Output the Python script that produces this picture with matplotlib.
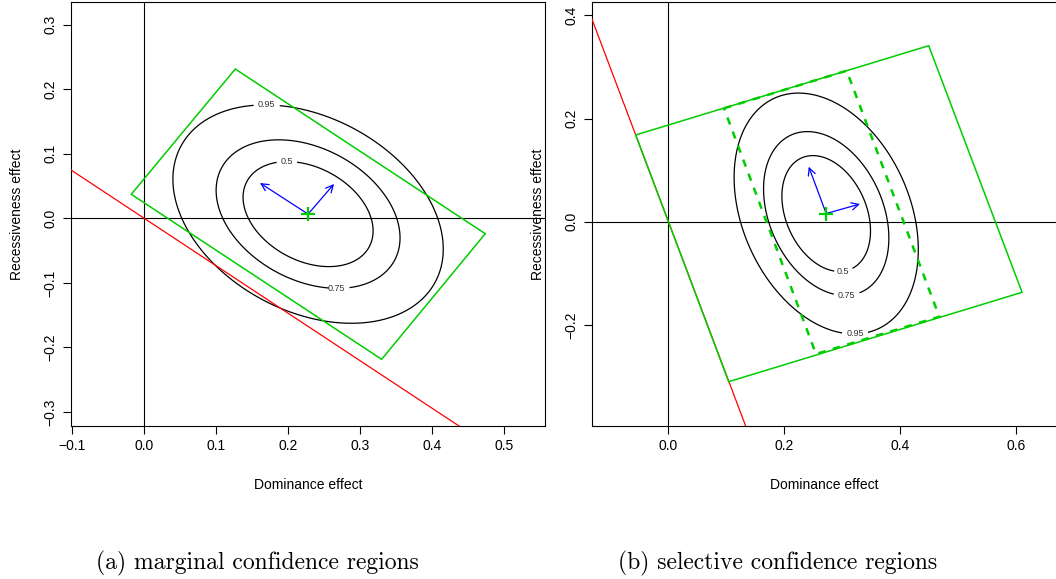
import numpy as np
import matplotlib
matplotlib.use("Agg")
import matplotlib.pyplot as plt

# ---------------- data ----------------
levels = [0.5, 0.75, 0.95]
level_labels = ["0.5", "0.75", "0.95"]

# panel (a): marginal confidence regions
a_center = (0.2275, 0.0066)
a_sd = (0.0767, 0.0691)
a_rho = -0.32
a_arrow_x = [0.1607, 0.2635]
a_arrow_y = [0.0548, 0.0532]
a_rect_x = [-0.0181, 0.1264, 0.4736, 0.3297]
a_rect_y = [0.0373, 0.2314, -0.0238, -0.2184]
a_red_slope = -0.736
a_label_pos = [(0.198, 0.086), (0.267, -0.109), (0.170, 0.175)]
a_xticks = [-0.1, 0.0, 0.1, 0.2, 0.3, 0.4, 0.5]
a_yticks = [-0.3, -0.2, -0.1, 0.0, 0.1, 0.2, 0.3]
a_xlim = (-0.1018, 0.557)
a_ylim = (-0.3222, 0.3357)

# panel (b): selective confidence regions
b_center = (0.2725, 0.0160)
b_sd = (0.0650, 0.0954)
b_rho = -0.30
b_arrow_x = [0.2423, 0.3309]
b_arrow_y = [0.1068, 0.0345]
b_rect_x = [-0.0567, 0.4496, 0.6109, 0.1040]
b_rect_y = [0.1683, 0.3414, -0.1367, -0.3100]
b_inner_x = [0.0959, 0.3079, 0.4679, 0.2549]
b_inner_y = [0.2200, 0.2929, -0.1840, -0.2563]
b_red_slope = -2.97
b_label_pos = [(0.301, -0.0944), (0.308, -0.1416), (0.3224, -0.218)]
b_xticks = [0.0, 0.2, 0.4, 0.6]
b_yticks = [-0.2, 0.0, 0.2, 0.4]
b_xlim = (-0.1327, 0.6713)
b_ylim = (-0.3965, 0.4267)

captions = ["(a) marginal confidence regions", "(b) selective confidence regions"]
xlabel = "Dominance effect"
ylabel = "Recessiveness effect"

GREEN = "#00CD00"
FONT = "Liberation Sans"

fig = plt.figure(figsize=(10.56, 5.79), dpi=100)
axA = fig.add_axes([71 / 1056, 1 - 426.3 / 579, (545.3 - 71) / 1056, (426.3 - 1.7) / 579])
axB = fig.add_axes([591.7 / 1056, 1 - 426.3 / 579, (1057 - 591.7) / 1056, (426.3 - 1.7) / 579])


def fmt(t):
    s = f"{t:.1f}"
    return s.replace("-", "\u2212")


def draw_panel(ax, center, sd, rho, arrow_x, arrow_y, rect_x, rect_y, red_slope,
               label_pos, xticks, yticks, xlim, ylim, inner=None):
    ax.set_xlim(*xlim)
    ax.set_ylim(*ylim)
    # Gaussian coverage surface
    gx = np.linspace(xlim[0], xlim[1], 400)
    gy = np.linspace(ylim[0], ylim[1], 400)
    X, Y = np.meshgrid(gx, gy)
    cov = np.array([[sd[0] ** 2, rho * sd[0] * sd[1]], [rho * sd[0] * sd[1], sd[1] ** 2]])
    inv = np.linalg.inv(cov)
    dx = X - center[0]
    dy = Y - center[1]
    d2 = inv[0, 0] * dx * dx + 2 * inv[0, 1] * dx * dy + inv[1, 1] * dy * dy
    F = 1 - np.exp(-d2 / 2)
    cs = ax.contour(X, Y, F, levels=levels, colors="black", linewidths=0.9, zorder=2)
    lbls = ax.clabel(cs, levels=levels, fmt=dict(zip(levels, level_labels)),
                     manual=label_pos, inline=True, inline_spacing=3, fontsize=6.5)
    for t in lbls:
        t.set_fontfamily(FONT)
        t.set_color("#333333")
        t.set_rotation(0)
    # reference axes
    ax.axhline(0, color="black", lw=0.8, zorder=1)
    ax.axvline(0, color="black", lw=0.8, zorder=1)
    # selection boundary
    ax.axline((0, 0), slope=red_slope, color="red", lw=0.9, zorder=3)
    # confidence rectangle
    ax.fill(rect_x, rect_y, facecolor="none", edgecolor=GREEN, lw=1.1, zorder=4)
    if inner is not None:
        ax.fill(inner[0], inner[1], facecolor="none", edgecolor=GREEN, lw=1.8,
                linestyle=(0, (3, 3)), zorder=4)
    # principal axes arrows
    for tx, ty in zip(arrow_x, arrow_y):
        ax.annotate("", xy=(tx, ty), xytext=center,
                    arrowprops=dict(arrowstyle="->", color="blue", lw=0.9,
                                    mutation_scale=13, shrinkA=0, shrinkB=0), zorder=5)
    ax.plot([center[0]], [center[1]], marker="+", ms=10, mew=1.6, color=GREEN, zorder=6)

    ax.set_xticks(xticks)
    ax.set_xticklabels([fmt(t) for t in xticks])
    ax.set_yticks(yticks)
    ax.set_yticklabels([fmt(t) for t in yticks])
    ax.tick_params(direction="out", length=5.5, width=0.8, labelsize=10, pad=4)
    ax.tick_params(axis="y", labelrotation=90)
    for l in ax.get_yticklabels():
        l.set_va("center")
        l.set_fontfamily(FONT)
    for l in ax.get_xticklabels():
        l.set_fontfamily(FONT)
    for s in ax.spines.values():
        s.set_linewidth(0.8)
    ax.set_xlabel(xlabel, fontsize=10, family=FONT, labelpad=18)
    ax.set_ylabel(ylabel, fontsize=10, family=FONT, labelpad=14)


draw_panel(axA, a_center, a_sd, a_rho, a_arrow_x, a_arrow_y, a_rect_x, a_rect_y,
           a_red_slope, a_label_pos, a_xticks, a_yticks, a_xlim, a_ylim)
draw_panel(axB, b_center, b_sd, b_rho, b_arrow_x, b_arrow_y, b_rect_x, b_rect_y,
           b_red_slope, b_label_pos, b_xticks, b_yticks, b_xlim, b_ylim,
           inner=(b_inner_x, b_inner_y))

fig.text(257 / 1056, 1 - 563 / 579, captions[0], family="cmr10", fontsize=17,
         ha="center", va="center")
fig.text(778 / 1056, 1 - 563 / 579, captions[1], family="cmr10", fontsize=17,
         ha="center", va="center")

fig.savefig("out.png", dpi=100)
